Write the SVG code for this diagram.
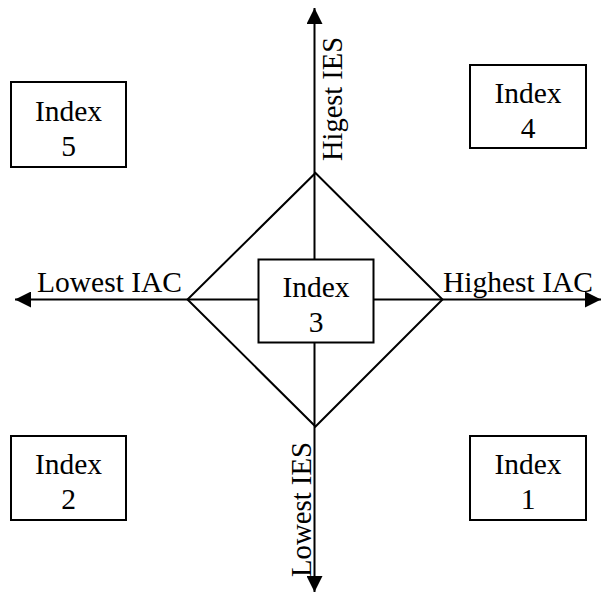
<svg xmlns="http://www.w3.org/2000/svg" width="601" height="594" viewBox="0 0 601 594">
<style>
.box{fill:#fff;stroke:#000;stroke-width:2}
.ln{fill:none;stroke:#000;stroke-width:2}
.t{font-family:"Liberation Serif","Times New Roman",serif;font-size:29.5px;fill:#000}
.c{text-anchor:middle}
</style>
<defs>
<marker id="ah" viewBox="0 0 16 16" refX="16" refY="8" markerWidth="16" markerHeight="16" markerUnits="userSpaceOnUse" orient="auto">
<path d="M0,0 L16,8 L0,16 Z" fill="#000"/>
</marker>
</defs>
<rect width="601" height="594" fill="#fff"/>
<g id="connectors">
<line class="ln" x1="314.5" y1="299.5" x2="314.5" y2="8" marker-end="url(#ah)"/>
<line class="ln" x1="314.5" y1="299.5" x2="314.5" y2="592" marker-end="url(#ah)"/>
<line class="ln" x1="314.5" y1="299.5" x2="15" y2="299.5" marker-end="url(#ah)"/>
<line class="ln" x1="314.5" y1="299.5" x2="601" y2="299.5" marker-end="url(#ah)"/>
<polygon class="ln" points="315.5,173 442.5,299.5 315.5,426.5 187.5,299.5"/>
<text class="t" x="37" y="292">Lowest IAC</text>
<text class="t" x="443" y="292">Highest IAC</text>
<text class="t" transform="translate(342,161) rotate(-90)" textLength="124" lengthAdjust="spacingAndGlyphs">Higest IES</text>
<text class="t" transform="translate(311,577) rotate(-90)" textLength="135" lengthAdjust="spacingAndGlyphs">Lowest IES</text>
</g>
<g id="index3">
<rect class="box" x="258.5" y="259.5" width="115" height="83"/>
<text class="t c" x="316" y="297">Index</text>
<text class="t c" x="316" y="332">3</text>
</g>
<g id="index5">
<rect class="box" x="11" y="82" width="115" height="85"/>
<text class="t c" x="68.5" y="121">Index</text>
<text class="t c" x="68.5" y="156">5</text>
</g>
<g id="index4">
<rect class="box" x="470" y="65" width="116" height="83"/>
<text class="t c" x="528" y="103">Index</text>
<text class="t c" x="528" y="138">4</text>
</g>
<g id="index2">
<rect class="box" x="11" y="436" width="115" height="84"/>
<text class="t c" x="68.5" y="474">Index</text>
<text class="t c" x="68.5" y="509">2</text>
</g>
<g id="index1">
<rect class="box" x="470" y="436" width="116" height="84"/>
<text class="t c" x="528" y="474">Index</text>
<text class="t c" x="528" y="509">1</text>
</g>
</svg>
